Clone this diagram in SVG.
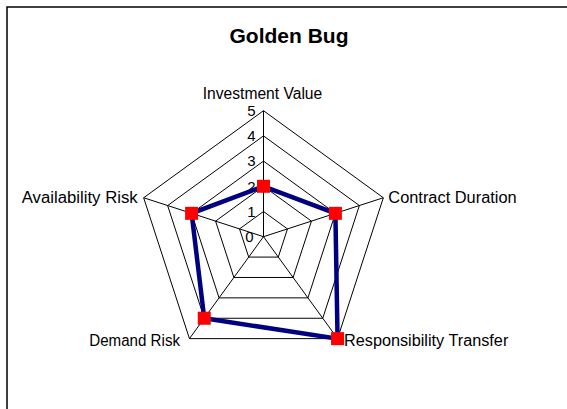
<svg xmlns="http://www.w3.org/2000/svg" width="567" height="409" viewBox="0 0 567 409">
<style>
text{font-family:"Liberation Sans",Arial,sans-serif;fill:#000}
.title{font-size:21px;font-weight:bold;text-anchor:middle}
.lab{font-size:15.8px}
.tick{font-size:15px;text-anchor:end}
.grid{fill:none;stroke:#000;stroke-width:1}
.series{fill:none;stroke:#000080;stroke-width:4.5;stroke-linejoin:miter}
.mk{fill:#ff0000}
</style>
<rect x="0" y="0" width="567" height="409" fill="#fff"/>
<rect x="7" y="7" width="620" height="460" fill="#fff" stroke="#000" stroke-width="1.5"/>
<text class="title" x="289" y="42.7">Golden Bug</text>
<g id="grid">
<polygon class="grid" points="263.5,211.5 287.47,228.91 278.31,257.09 248.69,257.09 239.53,228.91"/>
<polygon class="grid" points="263.5,186.3 311.43,221.13 293.12,277.47 233.88,277.47 215.57,221.13"/>
<polygon class="grid" points="263.5,161.1 335.4,213.34 307.94,297.86 219.06,297.86 191.6,213.34"/>
<polygon class="grid" points="263.5,135.9 359.37,205.55 322.75,318.25 204.25,318.25 167.63,205.55"/>
<polygon class="grid" points="263.5,110.7 383.33,197.76 337.56,338.64 189.44,338.64 143.67,197.76"/>
<line class="grid" x1="263.5" y1="236.7" x2="263.5" y2="110.7"/>
<line class="grid" x1="263.5" y1="236.7" x2="383.33" y2="197.76"/>
<line class="grid" x1="263.5" y1="236.7" x2="337.56" y2="338.64"/>
<line class="grid" x1="263.5" y1="236.7" x2="189.44" y2="338.64"/>
<line class="grid" x1="263.5" y1="236.7" x2="143.67" y2="197.76"/>
</g>
<g id="ticks">
<text class="tick" x="253.5" y="242">0</text>
<text class="tick" x="255.5" y="216.8">1</text>
<text class="tick" x="255.5" y="191.6">2</text>
<text class="tick" x="255.5" y="166.4">3</text>
<text class="tick" x="255.5" y="141.2">4</text>
<text class="tick" x="255.5" y="116">5</text>
</g>
<g id="axis-investment-value"><text class="lab" x="262.5" y="98.5" text-anchor="middle" textLength="119.5" lengthAdjust="spacingAndGlyphs">Investment Value</text></g>
<g id="axis-contract-duration"><text class="lab" x="388.3" y="202.8" textLength="128.4" lengthAdjust="spacingAndGlyphs">Contract Duration</text></g>
<g id="axis-responsibility-transfer"><text class="lab" x="344" y="345.5" textLength="164.3" lengthAdjust="spacingAndGlyphs">Responsibility Transfer</text></g>
<g id="axis-demand-risk"><text class="lab" x="89.3" y="345.5" textLength="90.7" lengthAdjust="spacingAndGlyphs">Demand Risk</text></g>
<g id="axis-availability-risk"><text class="lab" x="21.7" y="202.5" textLength="116" lengthAdjust="spacingAndGlyphs">Availability Risk</text></g>
<g id="series">
<polygon class="series" points="263.5,186.3 335.4,213.34 337.56,338.64 204.25,318.25 191.6,213.34"/>
<rect class="mk" x="257" y="179.8" width="13" height="13"/>
<rect class="mk" x="328.9" y="206.84" width="13" height="13"/>
<rect class="mk" x="331.06" y="332.14" width="13" height="13"/>
<rect class="mk" x="197.75" y="311.75" width="13" height="13"/>
<rect class="mk" x="185.1" y="206.84" width="13" height="13"/>
</g>
</svg>
